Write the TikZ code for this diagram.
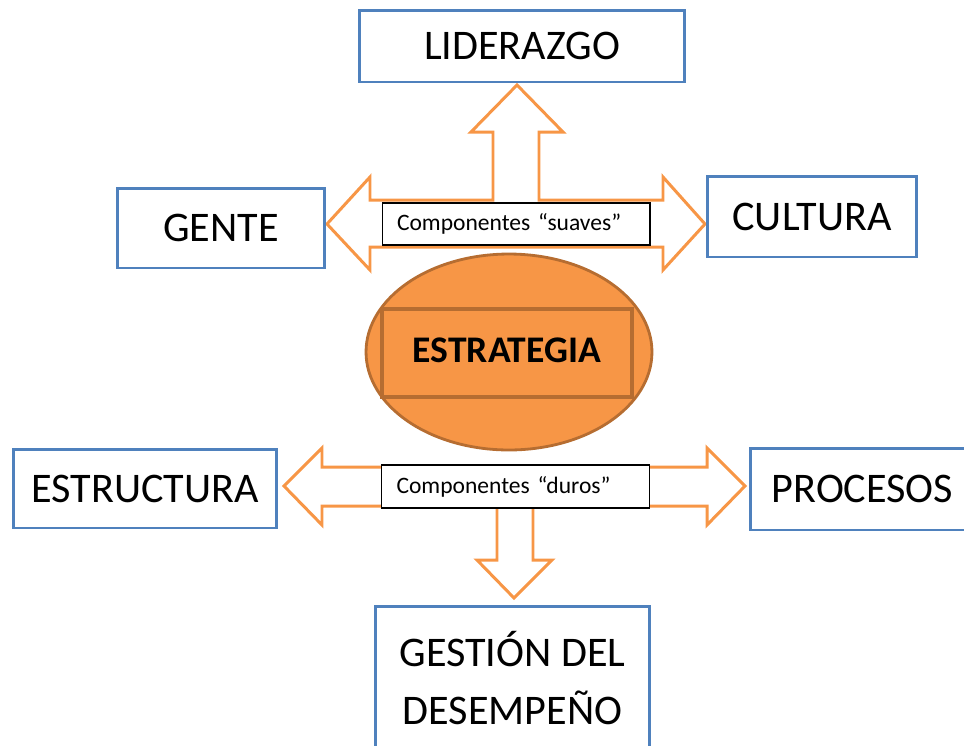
\documentclass[tikz,border=0pt]{standalone}
\usepackage{fontspec}
\setmainfont{Carlito}
\usepackage{xcolor}
\usetikzlibrary{shapes,positioning,calc}
\definecolor{boxblue}{HTML}{4F81BD}
\definecolor{arroworange}{HTML}{F79646}
\definecolor{darkorange}{HTML}{B66D31}

\begin{document}
\begin{tikzpicture}[x=0.02cm, y=-0.02cm,
    comp/.style={draw=boxblue, line width=1.7pt, fill=white, inner sep=0pt, align=center,
        font=\fontsize{24}{33}\selectfont},
    blockarrow/.style={draw=arroworange, line width=1.7pt, fill=white, line join=miter},
    tag/.style={draw=black, line width=0.6pt, fill=white, inner xsep=0.3cm, inner ysep=0pt,
        text width=4.76cm, align=left, font=\fontsize{13.4}{16}\selectfont}]
    \useasboundingbox (0,0) rectangle (964,745);
    \clip (0,0) rectangle (964,745);

    % soft components: up arrow joined to the left-right arrow
    \draw[blockarrow] (327,224) -- (370,177) -- (370,200) -- (493,200) -- (493,132) -- (471,132)
        -- (517,85) -- (563,132) -- (539,132) -- (539,200) -- (663,200) -- (663,177)
        -- (705,224) -- (663,270) -- (663,247) -- (370,247) -- (370,270) -- cycle;
    % hard components: left-right arrow joined to the down arrow
    \draw[blockarrow] (284,486) -- (322,448) -- (322,467) -- (707,467) -- (707,448)
        -- (745,486) -- (707,525) -- (707,506) -- (533,506) -- (533,560) -- (552,560)
        -- (514,598) -- (477,560) -- (497,560) -- (497,506) -- (322,506) -- (322,525) -- cycle;

    \node[tag, minimum height=0.84cm] (suaves) at (516,224) {Componentes~“suaves”};
    \node[tag, minimum height=0.86cm] (duros) at (515.5,486.5) {Componentes~“duros”};

    \node[ellipse, draw=darkorange, fill=arroworange, line width=1.6pt,
        minimum width=5.72cm, minimum height=3.92cm] (core) at (509,352) {};
    \node[draw=darkorange, fill=arroworange, line width=1.8pt, minimum width=5cm,
        minimum height=1.76cm, font=\fontsize{21.4}{26}\selectfont\bfseries] (estrategia)
        at (507,353) {\raisebox{3pt}{ESTRATEGIA}};

    \node[comp, minimum width=6.52cm, minimum height=1.44cm] (lider) at (522,46) {LIDERAZGO};
    \node[comp, minimum width=4.16cm, minimum height=1.6cm] (gente) at (221,228) {GENTE};
    \node[comp, minimum width=4.2cm, minimum height=1.62cm] (cultura) at (812,216.5) {CULTURA};
    \node[comp, minimum width=5.28cm, minimum height=1.58cm] (estructura) at (145,488.5) {ESTRUCTURA};
    \node[comp, minimum width=4.5cm, minimum height=1.64cm] (procesos) at (862.5,489) {PROCESOS};
    \node[comp, minimum width=5.5cm, minimum height=2.88cm] (gestion) at (512.5,678)
        {GESTIÓN DEL\\DESEMPEÑO};
\end{tikzpicture}
\end{document}
